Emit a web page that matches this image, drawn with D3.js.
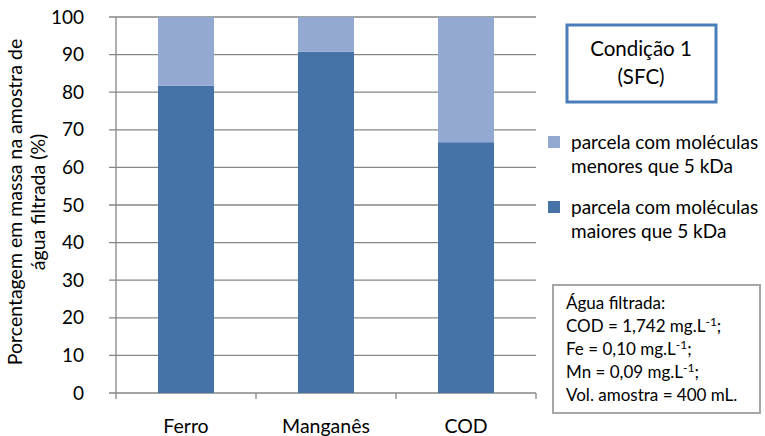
<!DOCTYPE html>
<html><head><meta charset="utf-8">
<script src="https://cdn.jsdelivr.net/npm/d3@7"></script>
<style>body{margin:0;background:#fff}svg{display:block}text{font-family:Lato,"Open Sans",sans-serif;fill:#000}</style>
</head><body>
<svg id="c" width="765" height="436"></svg>
<script>
const categories = ["Ferro", "Manganês", "COD"];
const seriesNames = ["parcela com moléculas maiores que 5 kDa", "parcela com moléculas menores que 5 kDa"];
const maiores = [81.7, 90.8, 66.7];
const menores = [18.3, 9.2, 33.3];
const yTicks = [0, 10, 20, 30, 40, 50, 60, 70, 80, 90, 100];
const legendLines = [["parcela com moléculas", "menores que 5 kDa"], ["parcela com moléculas", "maiores que 5 kDa"]];
const infoLines = ["Água filtrada:", "COD = 1,742 mg.L|-1|;", "Fe = 0,10 mg.L|-1|;", "Mn = 0,09 mg.L|-1|;", "Vol. amostra = 400 mL."];
const colors = {maiores: "#4572a7", menores: "#93a9d1"};

const svg = d3.select("#c");
const L = 116, R = 536, T = 17, B = 393;
const x = d3.scaleBand().domain(categories).range([L, R]).paddingInner(0.6).paddingOuter(0.3);
const y = d3.scaleLinear().domain([0, 100]).range([B, T]);

// gridlines
svg.append("g").selectAll("line").data(yTicks).join("line")
  .attr("x1", L - 7).attr("x2", R).attr("y1", d => y(d)).attr("y2", d => y(d))
  .attr("stroke", "#868686").attr("stroke-width", 1.3);

// stacked bars
const data = categories.map((c, i) => ({cat: c, maiores: maiores[i], menores: menores[i]}));
const stack = d3.stack().keys(["maiores", "menores"])(data);
svg.append("g").selectAll("g").data(stack).join("g")
  .attr("fill", d => colors[d.key])
  .selectAll("rect").data(d => d).join("rect")
  .attr("x", d => x(d.data.cat)).attr("width", x.bandwidth())
  .attr("y", d => y(Math.min(d[1], 100))).attr("height", d => y(d[0]) - y(Math.min(d[1], 100)));

// axes lines
svg.append("line").attr("x1", L).attr("x2", L).attr("y1", T).attr("y2", B + 6).attr("stroke", "#868686").attr("stroke-width", 1.3);
const step = (R - L) / categories.length;
svg.append("g").selectAll("line").data(d3.range(1, categories.length + 1)).join("line")
  .attr("x1", d => L + d * step).attr("x2", d => L + d * step).attr("y1", B).attr("y2", B + 6)
  .attr("stroke", "#868686").attr("stroke-width", 1.3);

// y tick labels
svg.append("g").selectAll("text").data(yTicks).join("text")
  .attr("x", 84).attr("y", d => y(d) + 6.5).attr("text-anchor", "end")
  .style("font-size", "19px").text(d => d);

// x labels
svg.append("g").selectAll("text").data(categories).join("text")
  .attr("x", d => x(d) + x.bandwidth() / 2).attr("y", 433).attr("text-anchor", "middle")
  .style("font-size", "19.5px").text(d => d);

// y title
const yt = svg.append("text").attr("transform", "translate(0,202) rotate(-90)").attr("text-anchor", "middle").style("font-size", "19.5px");
yt.append("tspan").attr("x", 0).attr("y", 22).text("Porcentagem em massa na amostra de");
yt.append("tspan").attr("x", 0).attr("y", 45).text("água filtrada (%)");

// condition box
svg.append("rect").attr("x", 567).attr("y", 25).attr("width", 149).attr("height", 77)
  .attr("fill", "#fff").attr("stroke", "#4a7ebb").attr("stroke-width", 3);
svg.append("text").attr("x", 641).attr("y", 56).attr("text-anchor", "middle").style("font-size", "20.5px").text("Condição 1");
svg.append("text").attr("x", 641).attr("y", 84).attr("text-anchor", "middle").style("font-size", "20.5px").text("(SFC)");

// legend
const lg = svg.append("g").selectAll("g").data(legendLines).join("g")
  .attr("transform", (d, i) => `translate(548,${136 + i * 65})`);
lg.append("rect").attr("width", 12).attr("height", 12).attr("fill", (d, i) => i === 0 ? colors.menores : colors.maiores);
lg.selectAll("text").data(d => d).join("text")
  .attr("x", 23).attr("y", (d, j) => 13 + j * 24).style("font-size", "19px").text(d => d);

// info box
svg.append("rect").attr("x", 553).attr("y", 285).attr("width", 207).attr("height", 128)
  .attr("fill", "#fff").attr("stroke", "#a6a6a6").attr("stroke-width", 2);
svg.append("g").selectAll("text").data(infoLines).join("text")
  .attr("x", 566).attr("y", (d, i) => 309 + i * 23).style("font-size", "17px")
  .each(function(d) {
    const parts = d.split("|");
    const t = d3.select(this);
    parts.forEach((p, k) => {
      const s = t.append("tspan").text(p);
      if (k === 1) s.attr("dy", -6).style("font-size", "12px");
      if (k === 2) s.attr("dy", 6);
    });
  });
</script>
</body></html>
